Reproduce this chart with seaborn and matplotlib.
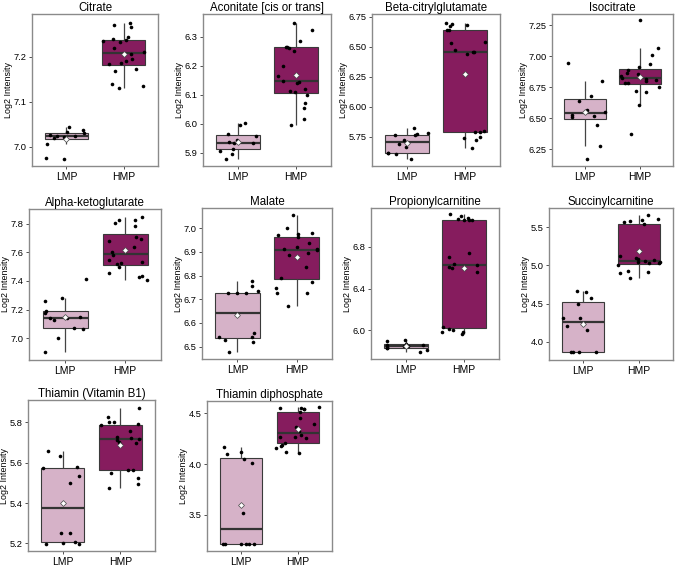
import numpy as np
import pandas as pd
import matplotlib
matplotlib.use("Agg")
import matplotlib.pyplot as plt
import seaborn as sns

groups = ["LMP", "HMP"]
titles = ["Citrate", "Aconitate [cis or trans]", "Beta-citrylglutamate", "Isocitrate",
          "Alpha-ketoglutarate", "Malate", "Propionylcarnitine", "Succinylcarnitine",
          "Thiamin (Vitamin B1)", "Thiamin diphosphate"]

citrate_lmp = [7.044, 7.024, 7.024, 7.032, 7.037, 7.030, 7.026, 7.019, 7.007, 6.972, 6.974, 7.022]
citrate_hmp = [7.274, 7.270, 7.267, 7.243, 7.235, 7.237, 7.239, 7.233, 7.220, 7.196,
               7.185, 7.184, 7.191, 7.173, 7.168, 7.139, 7.130, 7.135, 7.210, 7.205]
aconitate_lmp = [5.959, 5.932, 5.913, 5.907, 6.002, 5.994, 5.897, 5.877, 5.932, 5.944, 5.963, 5.938]
aconitate_hmp = [6.348, 6.323, 6.286, 6.265, 6.265, 6.251, 6.199, 6.148, 6.141, 6.164,
                 6.110, 6.114, 6.120, 6.099, 6.070, 6.053, 5.995, 6.015, 6.262, 6.145]
beta_lmp = [5.689, 5.722, 5.611, 5.606, 5.778, 5.764, 5.764, 5.825, 5.769, 5.667, 5.564, 5.611]
beta_hmp = [6.700, 6.689, 6.675, 6.639, 6.639, 6.681, 6.533, 6.542, 6.458, 6.439,
            6.458, 6.472, 5.800, 5.790, 5.786, 5.736, 5.750, 5.722, 5.653]
iso_lmp = [6.802, 6.679, 6.644, 6.571, 6.530, 6.508, 6.516, 6.448, 6.549, 6.277, 6.177, 6.946]
iso_hmp = [7.290, 7.065, 7.011, 6.910, 6.861, 6.891, 6.864, 6.829, 6.810, 6.800,
           6.788, 6.720, 6.842, 6.788, 6.938, 6.715, 6.605, 6.372, 6.820, 6.750]
alpha_lmp = [7.284, 7.260, 7.174, 7.190, 7.414, 7.140, 7.147, 7.140, 7.128, 7.074, 7.065, 7.000, 6.905]
alpha_hmp = [7.849, 7.802, 7.709, 7.679, 7.640, 7.693, 7.826, 7.826, 7.786, 7.547,
             7.519, 7.528, 7.535, 7.453, 7.437, 7.430, 7.407, 7.495, 7.600, 7.580]
malate_lmp = [6.756, 6.735, 6.725, 6.725, 6.725, 6.777, 6.559, 6.539, 6.528, 6.539, 6.518, 6.479]
malate_hmp = [7.000, 7.056, 6.961, 6.972, 6.979, 6.975, 6.937, 6.911, 6.911, 6.894,
              6.885, 6.908, 6.838, 6.772, 6.749, 6.725, 6.725, 6.673, 6.920, 6.790]
prop_lmp = [5.814, 5.872, 5.792, 5.834, 5.910, 5.898, 5.866, 5.856, 5.834, 5.845, 5.850, 5.860]
prop_hmp = [7.110, 7.088, 7.056, 7.072, 7.056, 7.066, 6.742, 6.704, 6.634, 6.554,
            6.608, 6.598, 6.006, 5.990, 5.984, 6.032, 5.962, 6.010, 7.050, 6.620]
succ_lmp = [4.649, 4.570, 4.496, 4.307, 4.316, 4.671, 4.154, 4.211, 3.860, 3.860, 3.860, 3.860]
succ_hmp = [5.614, 5.588, 5.570, 5.658, 5.600, 5.544, 5.118, 5.096, 5.000, 4.930,
            4.908, 4.900, 4.833, 5.040, 5.035, 5.045, 5.030, 5.060, 5.088, 5.065]
thiamin_lmp = [5.660, 5.577, 5.575, 5.536, 5.498, 5.633, 5.250, 5.253, 5.208, 5.195, 5.200, 5.197]
thiamin_hmp = [5.873, 5.828, 5.800, 5.790, 5.800, 5.787, 5.759, 5.729, 5.724, 5.704,
               5.691, 5.712, 5.547, 5.493, 5.564, 5.564, 5.522, 5.476, 5.720, 5.700]
tpp_lmp = [4.116, 4.048, 4.166, 4.015, 4.103, 3.516, 3.210, 3.210, 3.210, 3.210, 3.210, 3.210]
tpp_hmp = [4.559, 4.549, 4.539, 4.549, 4.539, 4.510, 4.457, 4.392, 4.362, 4.326,
           4.261, 4.271, 4.265, 4.182, 4.189, 4.156, 4.211, 4.123, 4.107, 4.290]

series = [(citrate_lmp, citrate_hmp), (aconitate_lmp, aconitate_hmp), (beta_lmp, beta_hmp),
          (iso_lmp, iso_hmp), (alpha_lmp, alpha_hmp), (malate_lmp, malate_hmp),
          (prop_lmp, prop_hmp), (succ_lmp, succ_hmp), (thiamin_lmp, thiamin_hmp),
          (tpp_lmp, tpp_hmp)]

yticks = [[7.0, 7.1, 7.2], [5.9, 6.0, 6.1, 6.2, 6.3], [5.75, 6.00, 6.25, 6.50, 6.75],
          [6.25, 6.50, 6.75, 7.00, 7.25], [7.0, 7.2, 7.4, 7.6, 7.8], [6.5, 6.6, 6.7, 6.8, 6.9, 7.0],
          [6.0, 6.4, 6.8], [4.0, 4.5, 5.0, 5.5], [5.2, 5.4, 5.6, 5.8], [3.5, 4.0, 4.5]]
tick_fmt = ["%.1f", "%.1f", "%.2f", "%.2f", "%.1f", "%.1f", "%.1f", "%.1f", "%.1f", "%.1f"]
ylims = [(6.957, 7.295), (5.854, 6.378), (5.506, 6.772), (6.117, 7.34), (6.849, 7.902),
         (6.448, 7.085), (5.728, 7.168), (3.759, 5.754), (5.162, 5.911), (3.146, 4.621)]

# panel boxes in pixels: left, right, top, bottom
boxes = [(32, 158, 14, 166), (203, 331, 14, 166), (372, 500, 14, 166), (552, 673, 14, 166),
         (29, 161, 209, 360), (202, 332, 208, 359), (371, 499, 208, 359), (549, 673, 208, 360),
         (28, 155, 400, 551), (207, 332, 401, 551)]

palette = {"LMP": "#D6B2C8", "HMP": "#861C5E"}

sns.set_theme(style="white")
plt.rcParams["font.family"] = ["Liberation Sans", "DejaVu Sans"]
plt.rcParams["text.color"] = "black"
plt.rcParams["axes.labelcolor"] = "black"
plt.rcParams["xtick.color"] = "black"
plt.rcParams["ytick.color"] = "black"

W, H = 677, 568
fig = plt.figure(figsize=(W / 100, H / 100), dpi=100)
np.random.seed(3)

for i, (lmp, hmp) in enumerate(series):
    l, r, t, b = boxes[i]
    ax = fig.add_axes([l / W, 1 - b / H, (r - l) / W, (b - t) / H])
    df = pd.DataFrame({"Group": ["LMP"] * len(lmp) + ["HMP"] * len(hmp),
                       "Value": lmp + hmp})
    sns.boxplot(data=df, x="Group", y="Value", hue="Group", order=groups, hue_order=groups,
                palette=palette, saturation=1, width=0.75, showfliers=False, showcaps=False,
                linecolor="#3a3a3a", linewidth=0.8, legend=False, ax=ax,
                showmeans=True,
                meanprops=dict(marker="D", markerfacecolor="white", markeredgecolor="#444444",
                               markersize=3, markeredgewidth=0.5, zorder=10),
                medianprops=dict(linewidth=1.6, color="#333333"),
                whiskerprops=dict(color="#444444", linewidth=0.9))
    sns.stripplot(data=df, x="Group", y="Value", order=groups, color="black", size=2.6,
                  jitter=0.38, ax=ax, zorder=5)
    ax.set_xlim(-0.6, 1.6)
    ax.set_ylim(*ylims[i])
    ax.set_yticks(yticks[i])
    ax.set_yticklabels([tick_fmt[i] % v for v in yticks[i]])
    ax.set_title(titles[i], fontsize=8.3, pad=2)
    ax.set_xlabel("")
    ax.set_ylabel("Log2 Intensity", fontsize=6.4, labelpad=0.5)
    ax.tick_params(axis="y", labelsize=6.7, length=2.5, width=0.6, color="#333333", pad=1.5, left=True)
    ax.tick_params(axis="x", labelsize=7.5, length=2.5, width=0.6, color="#333333", pad=1.5, bottom=True)
    for s in ax.spines.values():
        s.set_color("#8a8a8a")
        s.set_linewidth(1.0)

fig.savefig("out.png", dpi=100)
